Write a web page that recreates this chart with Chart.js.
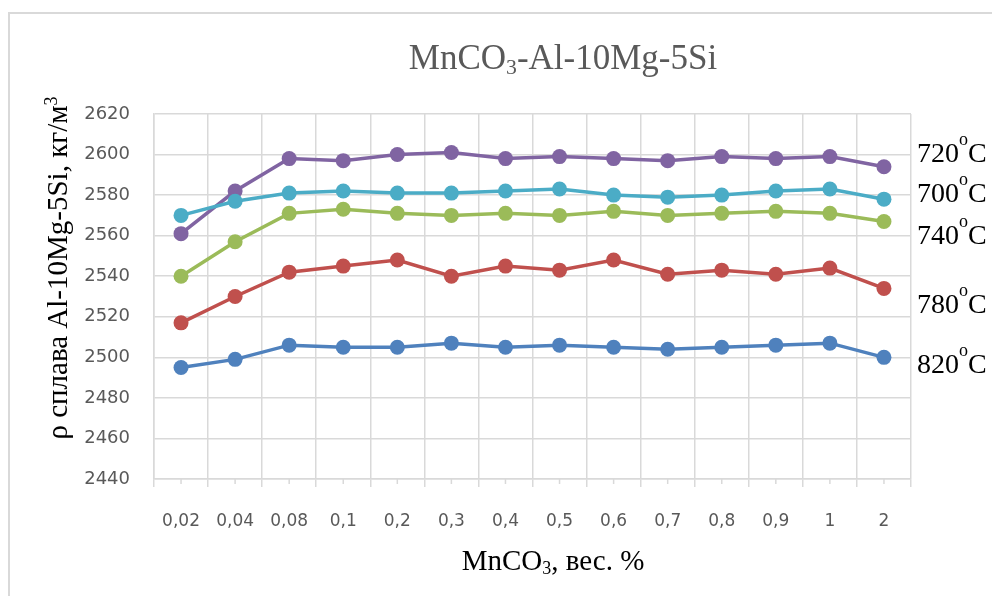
<!DOCTYPE html>
<html>
<head>
<meta charset="utf-8">
<script src="https://cdn.jsdelivr.net/npm/chart.js@4.4.0/dist/chart.umd.min.js"></script>
<style>
  body { margin: 0; background: #fff; }
  #wrap { position: relative; width: 992px; height: 596px; overflow: hidden; }
  #frame { position: absolute; left: 8px; top: 12px; width: 1100px; height: 700px; border: 2px solid #d9d9d9; box-sizing: border-box; }
  .txt { position: absolute; font-family: "Liberation Serif", "Times New Roman", serif; white-space: nowrap; }
  #title { left: 563px; top: 38px; transform: translateX(-50%); font-size: 35px; color: #595959; }
  #ytitle { left: 57px; top: 268px; transform: translate(-50%, -50%) rotate(-90deg); font-size: 29px; color: #000; }
  #xtitle { left: 553px; top: 544px; transform: translateX(-50%); font-size: 29px; color: #000; }
  .rl { left: 917px; font-size: 28px; color: #000; transform: translateY(-50%); }
  .rl sup { font-size: 18px; vertical-align: 17px; }
  sub { font-size: 0.62em; vertical-align: -0.25em; }
  sup.k { font-size: 0.62em; vertical-align: 0.55em; }
</style>
</head>
<body>
<div id="wrap">
  <canvas id="myChart" width="992" height="596"></canvas>
  <div id="frame"></div>
  <div class="txt" id="title">MnCO<sub>3</sub>-Al-10Mg-5Si</div>
  <div class="txt" id="ytitle">ρ сплава Al-10Mg-5Si, кг/м<sup class="k">3</sup></div>
  <div class="txt" id="xtitle">MnCO<sub>3</sub>, вес. %</div>
  <div id="rlabels"></div>
</div>
<script>
const categories = ["0,02","0,04","0,08","0,1","0,2","0,3","0,4","0,5","0,6","0,7","0,8","0,9","1","2"];
const yTicks = [2440, 2460, 2480, 2500, 2520, 2540, 2560, 2580, 2600, 2620];

const t820 = [2495, 2499, 2506, 2505, 2505, 2507, 2505, 2506, 2505, 2504, 2505, 2506, 2507, 2500];
const t780 = [2517, 2530, 2542, 2545, 2548, 2540, 2545, 2543, 2548, 2541, 2543, 2541, 2544, 2534];
const t740 = [2540, 2557, 2571, 2573, 2571, 2570, 2571, 2570, 2572, 2570, 2571, 2572, 2571, 2567];
const t700 = [2570, 2577, 2581, 2582, 2581, 2581, 2582, 2583, 2580, 2579, 2580, 2582, 2583, 2578];
const t720 = [2561, 2582, 2598, 2597, 2600, 2601, 2598, 2599, 2598, 2597, 2599, 2598, 2599, 2594];

// right side labels: text and vertical centre in px
const rightLabels = [["720", 149], ["700", 189], ["740", 231], ["780", 300], ["820", 360]];

var rl = document.getElementById('rlabels');
rightLabels.forEach(function (r) {
    var d = document.createElement('div');
    d.className = 'txt rl';
    d.style.top = r[1] + 'px';
    d.innerHTML = r[0] + '<sup>o</sup>C';
    rl.appendChild(d);
});

function series(data, color) {
    return {
        data: data,
        borderColor: color,
        backgroundColor: color,
        pointBackgroundColor: color,
        pointBorderWidth: 0,
        pointRadius: 7.5,
        borderWidth: 3.5,
        tension: 0
    };
}

const minorTicks = {
    id: 'minorTicks',
    afterDraw: function (chart) {
        var x = chart.scales.x, ctx = chart.ctx, b = chart.chartArea.bottom;
        ctx.save();
        ctx.strokeStyle = '#d9d9d9';
        ctx.lineWidth = 1.5;
        for (var i = 0; i < categories.length; i++) {
            var px = x.getPixelForValue(i);
            ctx.beginPath();
            ctx.moveTo(px, b);
            ctx.lineTo(px, b + 5);
            ctx.stroke();
        }
        ctx.restore();
    }
};

new Chart(document.getElementById('myChart'), {
    type: 'line',
    data: {
        labels: categories,
        datasets: [
            series(t820, '#4F81BD'),
            series(t780, '#C0504D'),
            series(t740, '#9BBB59'),
            series(t700, '#4BACC6'),
            series(t720, '#8064A2')
        ]
    },
    options: {
        responsive: false,
        animation: false,
        devicePixelRatio: 1,
        layout: { padding: { left: 0, top: 114, right: 81, bottom: 0 } },
        plugins: { legend: { display: false }, tooltip: { enabled: false } },
        scales: {
            x: {
                offset: true,
                grid: { offset: true, color: '#d9d9d9', lineWidth: 1.5, tickLength: 8 },
                border: { color: '#d9d9d9', width: 1.5 },
                ticks: { color: '#595959', font: { family: 'DejaVu Sans', size: 17 }, padding: 24, maxRotation: 0, autoSkip: false },
                afterFit: function (s) { s.height = 117; }
            },
            y: {
                min: 2440,
                max: 2620,
                afterBuildTicks: function (s) { s.ticks = yTicks.map(function (v) { return { value: v }; }); },
                grid: { color: '#d9d9d9', lineWidth: 1.5, drawTicks: false },
                border: { color: '#d9d9d9', width: 1.5 },
                ticks: {
                    color: '#595959', font: { family: 'DejaVu Sans', size: 18 }, padding: 24,
                    callback: function (v) { return String(v); }
                },
                afterFit: function (s) { s.width = 154; }
            }
        }
    },
    plugins: [minorTicks]
});
</script>
</body>
</html>
